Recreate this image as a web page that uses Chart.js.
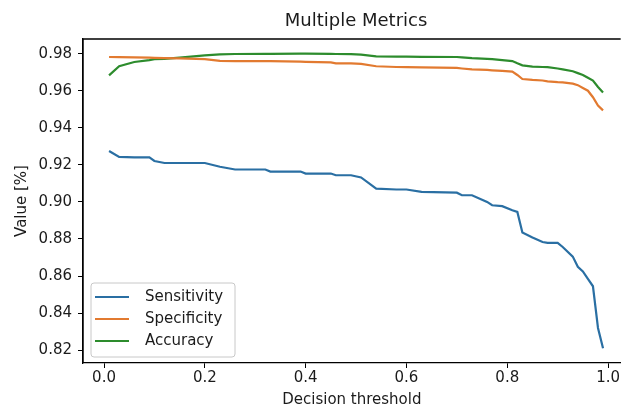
<!DOCTYPE html>
<html>
<head>
<meta charset="utf-8">
<script src="https://cdn.jsdelivr.net/npm/chart.js@4.4.1/dist/chart.umd.min.js"></script>
<style>
    html, body { margin: 0; padding: 0; background: #fff; overflow: hidden; }
    #wrap { width: 621px; height: 409px; }
</style>
</head>
<body>
<div id="wrap"><canvas id="metricsChart" width="621" height="409"></canvas></div>
<script>
// Decision thresholds (x) and the three metric curves
const thresholds = [0.01, 0.03, 0.06, 0.09, 0.10, 0.12, 0.15, 0.20, 0.23, 0.26, 0.32, 0.33, 0.39, 0.40, 0.45,
    0.46, 0.49, 0.51, 0.54, 0.58, 0.60, 0.63, 0.70, 0.71, 0.73, 0.76, 0.77, 0.79, 0.81, 0.82, 0.83,
    0.85, 0.87, 0.88, 0.90, 0.91, 0.93, 0.94, 0.95, 0.96, 0.97, 0.98, 0.99];

const sensitivity = [0.9275, 0.9243, 0.9240, 0.9240, 0.9221, 0.9210, 0.9210, 0.9210, 0.9190, 0.9175, 0.9175,
    0.9164, 0.9164, 0.9153, 0.9153, 0.9144, 0.9144, 0.9132, 0.9072, 0.9067, 0.9067, 0.9054, 0.9050,
    0.9036, 0.9036, 0.9000, 0.8982, 0.8977, 0.8955, 0.8946, 0.8835, 0.8808, 0.8784, 0.8779, 0.8779,
    0.8757, 0.8705, 0.8650, 0.8625, 0.8585, 0.8545, 0.8320, 0.8210];

const specificity = [0.9782, 0.9781, 0.9780, 0.9778, 0.9777, 0.9776, 0.9775, 0.9770, 0.9761, 0.9760, 0.9760,
    0.9760, 0.9757, 0.9756, 0.9753, 0.9748, 0.9747, 0.9745, 0.9732, 0.9728, 0.9727, 0.9726, 0.9723,
    0.9720, 0.9715, 0.9712, 0.9710, 0.9707, 0.9703, 0.9685, 0.9663, 0.9658, 0.9655, 0.9650, 0.9646,
    0.9645, 0.9638, 0.9630, 0.9615, 0.9600, 0.9565, 0.9520, 0.9494];

const accuracy = [0.9683, 0.9732, 0.9755, 0.9765, 0.9770, 0.9772, 0.9778, 0.9791, 0.9796, 0.9798, 0.9799,
    0.9799, 0.9800, 0.9800, 0.9799, 0.9798, 0.9797, 0.9795, 0.9785, 0.9784, 0.9784, 0.9783, 0.9782,
    0.9780, 0.9776, 0.9772, 0.9770, 0.9765, 0.9760, 0.9748, 0.9737, 0.9730, 0.9728, 0.9727, 0.9720,
    0.9715, 0.9705, 0.9695, 0.9685, 0.9670, 0.9655, 0.9620, 0.9590];

const seriesNames = ['Sensitivity', 'Specificity', 'Accuracy'];
const xTicks = [0.0, 0.2, 0.4, 0.6, 0.8, 1.0];
const yTicks = [0.82, 0.84, 0.86, 0.88, 0.90, 0.92, 0.94, 0.96, 0.98];

// the original axes run to 1.0417 but the picture is cut off at ~1.025
const X_MIN = -0.0417, X_FULL_MAX = 1.0417, X_VISIBLE_MAX = 1.025;

const FONT = '"DejaVu Sans", sans-serif';
const TEXT = '#1b1b1b';
const colors = ['#2a6fa3', '#e27a30', '#2d8c2d'];

const toPoints = values => values.map((v, i) => ({ x: thresholds[i], y: v }));

// Frame (no right side, it is cut off), title and the inside legend
const decorPlugin = {
    id: 'decor',
    afterDraw(chart) {
        const { ctx, chartArea } = chart;
        const xs = chart.scales.x;
        ctx.save();

        ctx.strokeStyle = '#000';
        ctx.lineWidth = 1.3;
        ctx.beginPath();
        ctx.moveTo(chartArea.left, chartArea.bottom);
        ctx.lineTo(chartArea.left, chartArea.top);
        ctx.lineTo(chartArea.right, chartArea.top);
        ctx.stroke();

        // title centred over the full (uncropped) axes
        const fullRight = xs.getPixelForValue(X_FULL_MAX);
        ctx.fillStyle = TEXT;
        ctx.font = '18px ' + FONT;
        ctx.textAlign = 'center';
        ctx.textBaseline = 'middle';
        ctx.fillText('Multiple Metrics', (chartArea.left + fullRight) / 2, 21);

        // legend, lower left
        const boxW = 144, boxH = 74;
        const bx = chartArea.left + 8;
        const by = chartArea.bottom - 6 - boxH;
        ctx.fillStyle = 'rgba(255,255,255,0.85)';
        ctx.strokeStyle = '#c8c8c8';
        ctx.lineWidth = 1;
        ctx.beginPath();
        ctx.roundRect(bx, by, boxW, boxH, 3);
        ctx.fill();
        ctx.stroke();

        ctx.font = '15px ' + FONT;
        ctx.textAlign = 'left';
        chart.data.datasets.forEach((ds, i) => {
            const ry = by + 14 + i * 22;
            ctx.strokeStyle = ds.borderColor;
            ctx.lineWidth = 2;
            ctx.beginPath();
            ctx.moveTo(bx + 4, ry);
            ctx.lineTo(bx + 38, ry);
            ctx.stroke();
            ctx.fillStyle = TEXT;
            ctx.fillText(ds.label, bx + 54, ry);
        });

        ctx.restore();
    }
};

const datasets = [sensitivity, specificity, accuracy].map((vals, i) => ({
    label: seriesNames[i],
    data: toPoints(vals),
    borderColor: colors[i],
    backgroundColor: colors[i],
    borderWidth: 2.2,
    pointRadius: 0,
    tension: 0,
    fill: false
}));

new Chart(document.getElementById('metricsChart'), {
    type: 'line',
    data: { datasets },
    options: {
        responsive: false,
        animation: false,
        devicePixelRatio: 1,
        layout: { padding: { top: 39, right: 0, bottom: 0, left: 0 } },
        plugins: {
            legend: { display: false },
            title: { display: false },
            tooltip: { enabled: false }
        },
        scales: {
            x: {
                type: 'linear',
                min: X_MIN,
                max: X_VISIBLE_MAX,
                afterBuildTicks: scale => { scale.ticks = xTicks.map(v => ({ value: v })); },
                afterFit: scale => { scale.height = 46; },
                ticks: {
                    color: TEXT,
                    font: { family: FONT, size: 15 },
                    padding: 1,
                    maxRotation: 0,
                    callback: v => v.toFixed(1)
                },
                grid: { drawOnChartArea: false, drawTicks: true, tickLength: 5, color: '#000' },
                border: { display: true, color: '#000', width: 1.3 },
                title: {
                    display: true,
                    text: 'Decision threshold',
                    color: TEXT,
                    font: { family: FONT, size: 15 },
                    padding: { top: 0, bottom: 0 }
                }
            },
            y: {
                type: 'linear',
                min: 0.8131,
                max: 0.9879,
                afterBuildTicks: scale => { scale.ticks = yTicks.map(v => ({ value: v })); },
                afterFit: scale => { scale.width = 83; },
                ticks: {
                    color: TEXT,
                    font: { family: FONT, size: 15 },
                    padding: 6,
                    callback: v => v.toFixed(2)
                },
                grid: { drawOnChartArea: false, drawTicks: true, tickLength: 5, color: '#000' },
                border: { display: true, color: '#000', width: 1.3 },
                title: {
                    display: true,
                    text: 'Value [%]',
                    color: TEXT,
                    font: { family: FONT, size: 15 },
                    padding: { top: 13, bottom: 0 }
                }
            }
        }
    },
    plugins: [decorPlugin]
});
</script>
</body>
</html>
